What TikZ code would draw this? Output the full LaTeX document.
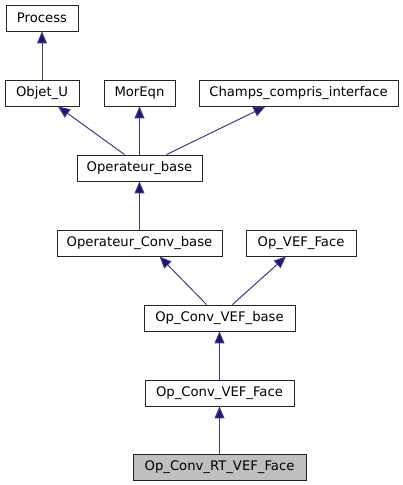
\documentclass[tikz,border=0pt]{standalone}
\usepackage{fontspec}
\setmainfont{DejaVu Sans}
\usetikzlibrary{arrows.meta}
\definecolor{edgeblue}{HTML}{191970}
\definecolor{boxgray}{HTML}{BFBFBF}
\tikzset{
  cls/.style={draw=black!85, line width=0.9pt, minimum height=26pt, inner sep=0pt, font=\fontsize{13.2}{15}\selectfont, anchor=center},
  inh/.style={draw=edgeblue!85, line width=1pt, -{Triangle[length=12pt,width=10pt,fill=edgeblue]}}
}
\begin{document}
\begin{tikzpicture}[x=1pt,y=1pt]
\useasboundingbox (0,0) rectangle (403,485);
\node[cls, minimum width=72pt] (process) at (42,467) {Process};
\node[cls, minimum width=74pt] (objet) at (42,392) {Objet\_U};
\node[cls, minimum width=71pt] (moreqn) at (139.5,392) {MorEqn};
\node[cls, minimum width=199pt] (champs) at (298.5,392) {Champs\_compris\_interface};
\node[cls, minimum width=125pt] (opbase) at (139.5,317) {Operateur\_base};
\node[cls, minimum width=165pt] (opconv) at (139.5,242) {Operateur\_Conv\_base};
\node[cls, minimum width=110pt] (opvef) at (301,242) {Op\_VEF\_Face};
\node[cls, minimum width=151pt] (cvbase) at (219.5,167) {Op\_Conv\_VEF\_base};
\node[cls, minimum width=149pt] (cvface) at (219.5,92) {Op\_Conv\_VEF\_Face};
\node[cls, minimum width=173pt, fill=boxgray] (rt) at (219.5,18) {Op\_Conv\_RT\_VEF\_Face};
\draw[inh] (objet.north) -- (process.south);
\draw[inh] ([xshift=-15pt]opbase.north) -- ([xshift=16pt]objet.south);
\draw[inh] (opbase.north) -- (moreqn.south);
\draw[inh] ([xshift=27pt]opbase.north) -- ([xshift=-33pt]champs.south);
\draw[inh] (opconv.north) -- (opbase.south);
\draw[inh] ([xshift=-13pt]cvbase.north) -- ([xshift=20pt]opconv.south);
\draw[inh] ([xshift=13pt]cvbase.north) -- ([xshift=-15pt]opvef.south);
\draw[inh] (cvface.north) -- (cvbase.south);
\draw[inh] (rt.north) -- (cvface.south);
\end{tikzpicture}
\end{document}
